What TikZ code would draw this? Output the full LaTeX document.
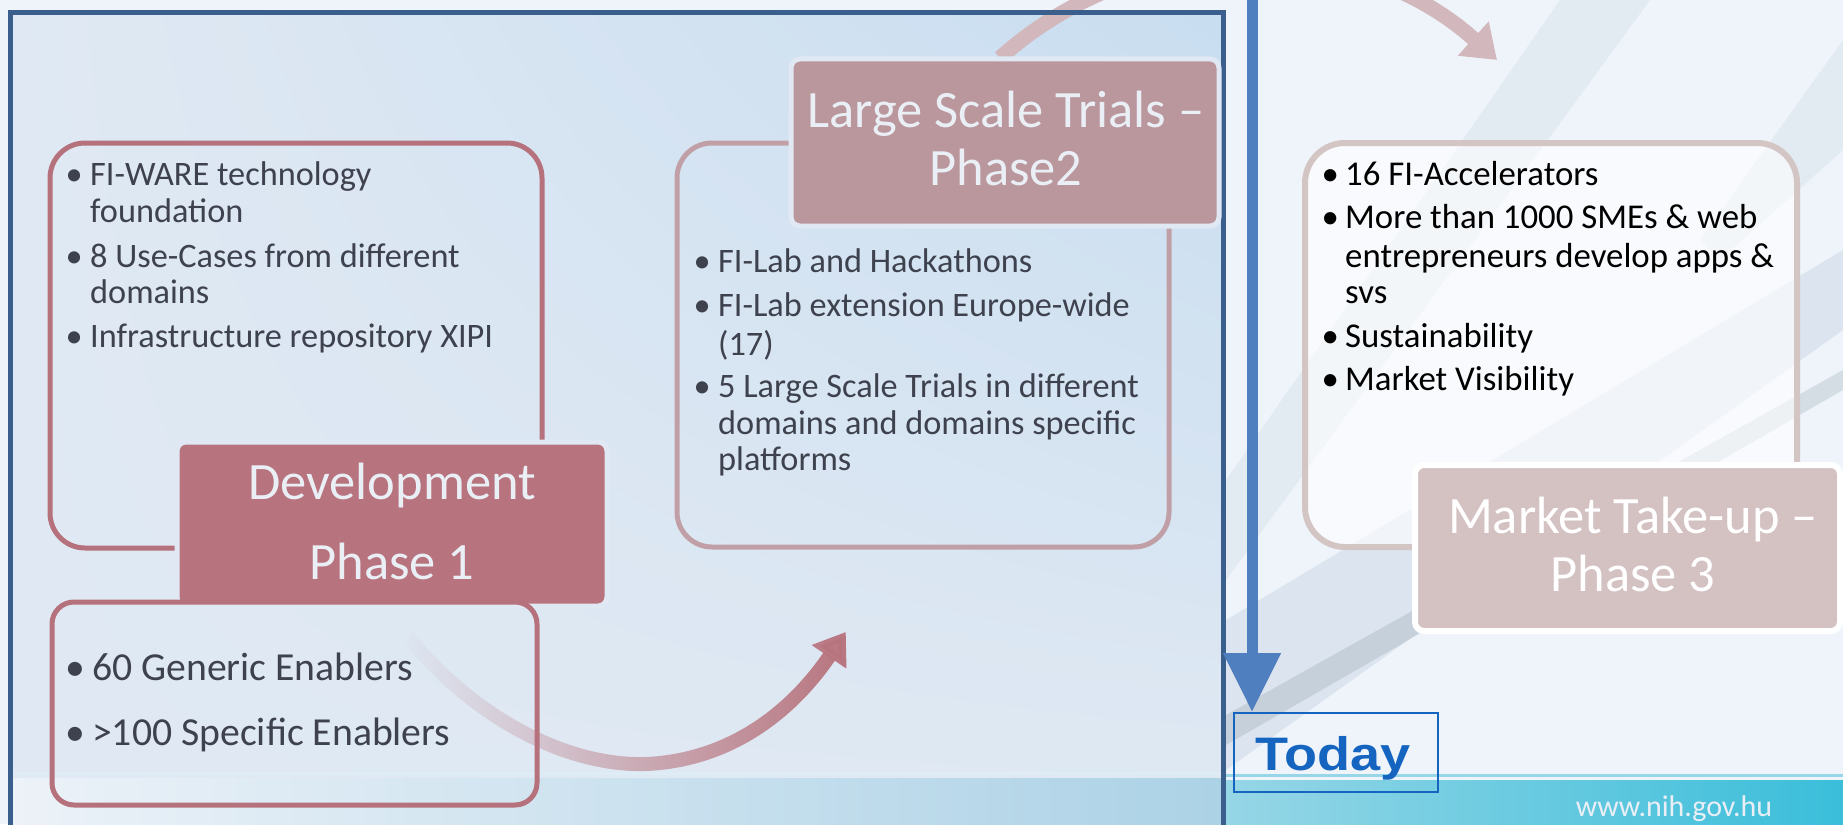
\documentclass[tikz,border=0pt]{standalone}
\usepackage{fontspec}
\usetikzlibrary{arrows.meta,fadings,shadings}
\newfontfamily\bodyfont{Carlito}
\newfontfamily\plainfont{Carlito}
\newfontfamily\todayfont[FakeStretch=1.15]{Liberation Sans}

\definecolor{paper}{RGB}{238,244,250}
\definecolor{panel}{RGB}{224,233,243}
\definecolor{paneltop}{RGB}{200,221,240}
\definecolor{framecol}{RGB}{58,95,140}
\definecolor{timeline}{RGB}{79,127,191}
\definecolor{todaycol}{RGB}{21,101,192}
\definecolor{redline}{RGB}{181,114,124}
\definecolor{titleone}{RGB}{184,116,126}
\definecolor{titletwo}{RGB}{186,150,157}
\definecolor{linetwo}{RGB}{192,160,166}
\definecolor{titlethree}{RGB}{212,193,194}
\definecolor{linethree}{RGB}{212,197,197}
\definecolor{arcrose}{RGB}{210,184,188}
\definecolor{textgrey}{RGB}{62,66,78}
\definecolor{titletext}{RGB}{234,239,246}
\definecolor{swoosh}{RGB}{140,162,190}
\definecolor{tealleft}{RGB}{150,214,230}
\definecolor{tealright}{RGB}{58,190,218}
\definecolor{bandblue}{RGB}{172,210,230}

\tikzfading[name=fadein, left color=transparent!100, middle color=transparent!20, right color=transparent!0]

\tikzstyle{btext}=[anchor=base west, inner sep=0pt, text=textgrey, font=\bodyfont\fontsize{34.3}{37}\selectfont]
\tikzstyle{bigtext}=[btext, font=\plainfont\fontsize{39.7}{45}\selectfont]
\tikzstyle{blacktext}=[btext, text=black, font=\bodyfont\fontsize{34.8}{37}\selectfont]
\tikzstyle{ttext}=[anchor=base, inner sep=0pt, text=titletext, font=\plainfont\fontsize{52.5}{57}\selectfont]
\tikzstyle{outline}=[rectangle, rounded corners=35pt, line width=5pt, inner sep=0pt]
\tikzstyle{titlebox}=[rectangle, rounded corners=9pt, line width=5pt, draw=panel, inner sep=0pt]
\newcommand{\btext}{\node[btext]}
\newcommand{\bul}[1][32pt]{\llap{\makebox[#1][c]{•}}}

\begin{document}
\begin{tikzpicture}[x=1pt, y=-1pt]
\useasboundingbox (0,0) rectangle (1843,824);
\clip (0,0) rectangle (1843,824);
\fill[paper] (0,0) rectangle (1843,824);
\fill[swoosh, opacity=.18] (1226,620) -- (1843,250) -- (1843,330) -- (1226,770) -- cycle;
\fill[swoosh!70!black, opacity=.18] (1226,715) -- (1843,370) -- (1843,390) -- (1226,745) -- cycle;
\fill[swoosh, opacity=.12] (1560,0) -- (1650,0) -- (1226,580) -- (1226,480) -- cycle;
\fill[swoosh, opacity=.12] (1843,40) -- (1843,150) -- (1720,260) -- (1700,240) -- cycle;
\draw[tealleft, line width=3pt] (1226,775) -- (1843,775);
\shade[left color=tealleft, right color=tealright] (1226,780) rectangle (1843,830);
\node[anchor=base, inner sep=0pt, text=titletext, font=\plainfont\fontsize{30}{34}\selectfont] (web) at (1674,816) {www.nih.gov.hu};

\shade[upper left=panel, lower left=panel, lower right=panel, upper right=paneltop] (10,13) rectangle (1223,830);
\draw[white!60!bandblue, line width=3pt] (12,773) -- (1221,773);
\shade[left color=panel!60!white, right color=bandblue] (12,778) rectangle (1221,830);

\coordinate (arcstart) at (1000,58);
\coordinate (arcend) at (1497,60);
\draw[arcrose, line width=15pt, -{Triangle[width=44pt,length=32pt]}] (arcstart) .. controls (1140,-68) and (1355,-68) .. (arcend);
\draw[framecol, line width=5pt] (10,13) rectangle (1223,840);

\node[outline, draw=redline, minimum width=492pt, minimum height=405pt] (devbox) at (296,345.5) {};
\node[titlebox, fill=titleone, minimum width=430pt, minimum height=164pt] (devtitle) at (392,524) {};
\coordinate (bendstart) at (407,636);
\coordinate (bendend) at (846,632);
\draw[titleone, line width=14pt, path fading=fadein, -{Triangle[width=40pt,length=30pt]}] (bendstart) .. controls (480,725) and (580,772) .. (660,763) .. controls (745,754) and (800,700) .. (bendend);
\node[outline, rounded corners=22pt, draw=redline, minimum width=485pt, minimum height=203pt] (enablers) at (294.5,703.5) {};

\node[outline, draw=linetwo, minimum width=492pt, minimum height=404pt] (trialbox) at (923,345) {};
\node[titlebox, fill=titletwo, minimum width=428pt, minimum height=167pt] (trialtitle) at (1005,142.5) {};

\node[outline, rounded corners=40pt, draw=linethree, line width=6pt, fill=white, fill opacity=.6, minimum width=492pt, minimum height=404pt] (marketbox) at (1551,345) {};
\node[titlebox, draw=white, line width=6pt, fill=titlethree, minimum width=425pt, minimum height=166pt] (markettitle) at (1627.5,548) {};

\node[draw=todaycol, line width=2pt, minimum width=204pt, minimum height=79pt, inner sep=0pt] (todaybox) at (1336,752.5) {};
\coordinate (tltop) at (1252,-10);
\draw[timeline, line width=11pt, -{Triangle[width=55pt,length=59pt]}] (tltop) -- (tltop |- todaybox.north);
\node[anchor=base, inner sep=0pt, text=todaycol, font=\todayfont\bfseries\fontsize{47}{50}\selectfont] (today) at (1333,770) {Today};

\btext (fiware) at (90,185) {\bul FI-WARE technology};
\btext (found) at (90,222) {foundation};
\btext (usecase) at (90,267) {\bul 8 Use-Cases from different};
\btext (domains) at (90,303) {domains};
\btext (xipi) at (90,347) {\bul Infrastructure repository XIPI};
\node[bigtext] (generic) at (92,680) {\bul[34pt]60 Generic Enablers};
\node[bigtext] (specific) at (92,745) {\bul[34pt]>100 Specific Enablers};

\btext (filab) at (718,272) {\bul FI-Lab and Hackathons};
\btext (extension) at (718,316) {\bul FI-Lab extension Europe-wide};
\btext (seventeen) at (718,355) {(17)};
\btext (trials) at (718,397) {\bul 5 Large Scale Trials in different};
\btext (specdom) at (718,434) {domains and domains specific};
\btext (platforms) at (718,470) {platforms};

\node[blacktext] (accel) at (1345,185) {\bul[30pt]16 FI-Accelerators};
\node[blacktext] (smes) at (1345,228) {\bul[30pt]More than 1000 SMEs \& web};
\node[blacktext] (entre) at (1345,267) {entrepreneurs develop apps \&};
\node[blacktext] (svs) at (1345,303) {svs};
\node[blacktext] (sustain) at (1345,347) {\bul[30pt]Sustainability};
\node[blacktext] (visib) at (1345,390) {\bul[30pt]Market Visibility};

\node[ttext] (dev1) at (392,499) {Development};
\node[ttext] (dev2) at (392,579) {Phase 1};
\node[ttext] (lst1) at (1006,128) {Large Scale Trials –};
\node[ttext] (lst2) at (1006,185) {Phase2};
\node[ttext, text=white] (mkt1) at (1633,533) {Market Take-up –};
\node[ttext, text=white] (mkt2) at (1633,591) {Phase 3};
\end{tikzpicture}
\end{document}
